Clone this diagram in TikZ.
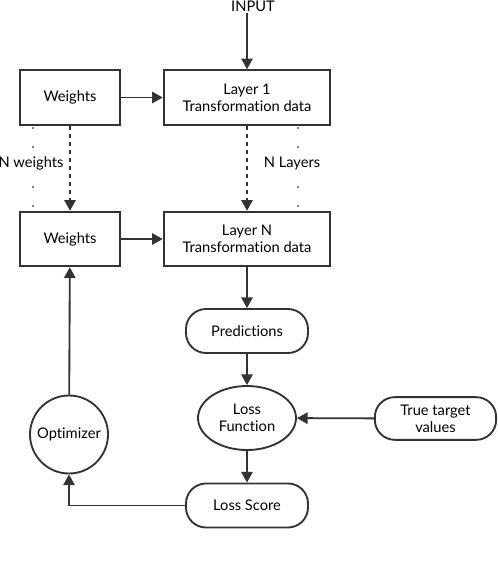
\documentclass[tikz,border=0pt]{standalone}
\usepackage{fontspec}
\setmainfont{Lato}[Ligatures=NoCommon]
\usetikzlibrary{arrows.meta,shapes.geometric}

\tikzset{
  conn/.style={line width=1.4pt, draw=black!80, -{Triangle[length=8pt,width=8.5pt]}},
  box/.style={draw=black!80, line width=1.4pt, minimum height=41pt, align=center, inner sep=0.75pt},
  pill/.style={draw=black!80, line width=1.4pt, rounded corners=15pt, minimum width=91.5pt, minimum height=33pt, align=center, inner sep=0.75pt},
  dotmark/.style={circle, fill=black, inner sep=0pt, minimum size=1.4pt},
  lbl/.style={inner sep=0.75pt}
}

\begin{document}
\begin{tikzpicture}[x=0.75pt,y=0.75pt,yscale=-1,xscale=1, every node/.append style={font=\fontsize{11}{13}\selectfont}]
    \useasboundingbox (0,0) rectangle (498,562);

    % Boxes
    \node [lbl] (input) at (253,6) {INPUT};
    \node [box, minimum width=75pt] (weights1) at (70,97.5) {Weights};
    \node [box, minimum width=125pt] (layer1) at (247,97.5) {Layer 1\\Transformation data};
    \node [box, minimum width=75pt] (weights2) at (70,239) {Weights};
    \node [box, minimum width=125pt] (layerN) at (247,239) {Layer N\\Transformation data};

    % Rounded boxes and ellipses
    \node [pill] (pred) at (247,331) {Predictions};
    \node [ellipse, draw=black!80, line width=1.4pt, minimum width=73.5pt, minimum height=48pt, align=center, inner sep=0.75pt] (lossfn) at (247,418) {Loss\\Function};
    \node [pill, minimum width=91pt, minimum height=32pt] (truev) at (435.5,418.5) {True target\\values};
    \node [pill] (score) at (247,505.5) {Loss Score};
    \node [circle, draw=black!80, line width=1.4pt, minimum size=58.5pt, inner sep=0.75pt] (optim) at (69,434.5) {Optimizer};

    % Side texts and dots
    \node [lbl] (nweights) at (31,163) {N weights};
    \node [lbl] (nlayers) at (292,163) {N Layers};
    \foreach \y [count=\i] in {128,147,187,206} {
      \node [dotmark] (wdot\i) at (33,\y) {};
      \node [dotmark] (ldot\i) at (298,\y) {};
    }

    % Connectors
    \draw [conn] (layer1.north |- input.south) -- (layer1);
    \draw [conn] (weights1) -- (layer1);
    \draw [conn, dashed] (weights1) -- (weights2);
    \draw [conn, dashed] (layer1) -- (layerN);
    \draw [conn] (weights2) -- (layerN);
    \draw [conn] (layerN) -- (pred);
    \draw [conn] (pred) -- (lossfn);
    \draw [conn] (truev) -- (lossfn);
    \draw [conn] (lossfn) -- (score);
    \draw [conn] (score) -| (optim);
    \draw [conn] (optim) -- (weights2);

\end{tikzpicture}
\end{document}
